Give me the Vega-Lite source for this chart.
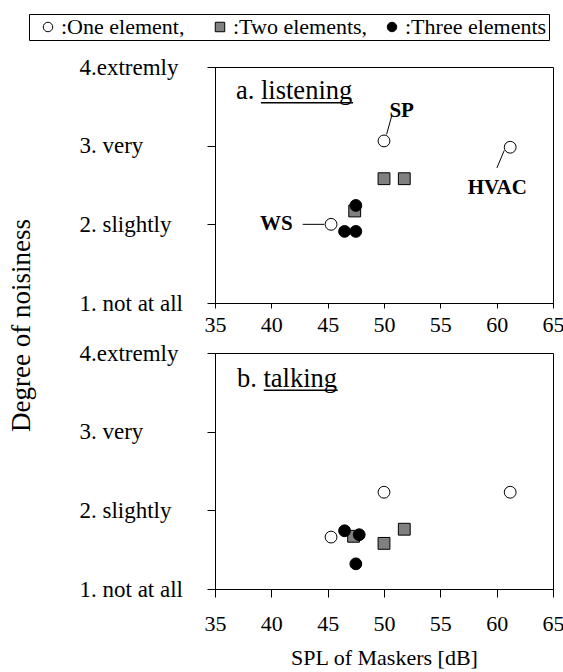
{
  "$schema": "https://vega.github.io/schema/vega-lite/v6.json",
  "padding": {"left": 6, "top": 13, "right": 0, "bottom": 5},
  "bounds": "flush",
  "spacing": 50,
  "datasets": {
    "points": [
      {"panel": "a", "spl": 45.3, "degree": 2.0, "type": "One"},
      {"panel": "a", "spl": 50.0, "degree": 3.06, "type": "One"},
      {"panel": "a", "spl": 61.2, "degree": 2.98, "type": "One"},
      {"panel": "a", "spl": 50.0, "degree": 2.58, "type": "Two"},
      {"panel": "a", "spl": 51.8, "degree": 2.58, "type": "Two"},
      {"panel": "a", "spl": 47.4, "degree": 2.17, "type": "Two"},
      {"panel": "a", "spl": 47.5, "degree": 2.24, "type": "Three"},
      {"panel": "a", "spl": 46.5, "degree": 1.91, "type": "Three"},
      {"panel": "a", "spl": 47.5, "degree": 1.91, "type": "Three"},
      {"panel": "b", "spl": 45.3, "degree": 1.66, "type": "One"},
      {"panel": "b", "spl": 50.0, "degree": 2.23, "type": "One"},
      {"panel": "b", "spl": 61.2, "degree": 2.23, "type": "One"},
      {"panel": "b", "spl": 47.3, "degree": 1.67, "type": "Two"},
      {"panel": "b", "spl": 50.0, "degree": 1.58, "type": "Two"},
      {"panel": "b", "spl": 51.8, "degree": 1.76, "type": "Two"},
      {"panel": "b", "spl": 46.5, "degree": 1.74, "type": "Three"},
      {"panel": "b", "spl": 47.8, "degree": 1.69, "type": "Three"},
      {"panel": "b", "spl": 47.5, "degree": 1.32, "type": "Three"}
    ],
    "labels": [
      {"panel": "a", "spl": 40.44, "degree": 2.0, "text": "WS"},
      {"panel": "a", "spl": 51.57, "degree": 3.44, "text": "SP"},
      {"panel": "a", "spl": 60.05, "degree": 2.46, "text": "HVAC"}
    ],
    "links": [
      {"panel": "a", "x1": 42.78, "y1": 2.0, "x2": 44.7, "y2": 2.0},
      {"panel": "a", "x1": 50.68, "y1": 3.376, "x2": 50.23, "y2": 3.143},
      {"panel": "a", "x1": 60.02, "y1": 2.717, "x2": 60.67, "y2": 2.938}
    ],
    "titles": [
      {"panel": "a", "spl": 36.86, "degree": 3.59, "text": "a. listening", "u1": 39.08, "u2": 47.25, "uy": 3.545},
      {"panel": "b", "spl": 36.95, "degree": 3.573, "text": "b. talking", "u1": 39.32, "u2": 45.89, "uy": 3.527}
    ]
  },
  "vconcat": [
    {
      "width": 338,
      "height": 236,
      "layer": [
        {
          "data": {"name": "points"},
          "transform": [{"filter": "datum.panel == 'a'"}],
          "mark": {"type": "point", "filled": true, "strokeWidth": 1, "size": 140, "opacity": 1},
          "encoding": {
            "x": {"field": "spl", "type": "quantitative", "scale": {"domain": [35, 65], "nice": false},
              "axis": {"title": null, "values": [35, 40, 45, 50, 55, 60, 65], "tickSize": 5, "labelPadding": 6, "labelFontSize": 22}},
            "y": {"field": "degree", "type": "quantitative", "scale": {"domain": [1, 4], "nice": false},
              "axis": {"title": "Degree of noisiness", "titleFontSize": 27, "titleX": -180, "titleY": 258, "titleAlign": "center",
                "values": [1, 2, 3, 4], "tickSize": 8, "labelAlign": "left", "labelBaseline": "middle", "labelPadding": 128,
                "labelExpr": "datum.value == 4 ? '4.extremly' : datum.value == 3 ? '3. very' : datum.value == 2 ? '2. slightly' : '1. not at all'"}},
            "shape": {"field": "type", "type": "nominal", "scale": {"domain": ["One", "Two", "Three"], "range": ["circle", "square", "circle"]},
              "legend": {"orient": "none", "legendX": -186, "legendY": -53, "direction": "horizontal", "columns": 3, "title": null, "gridAlign": "all",
                "labelExpr": "datum.label == 'One' ? ':One element,' : datum.label == 'Two' ? ':Two elements,' : ':Three elements'"}},
            "fill": {"field": "type", "type": "nominal", "scale": {"domain": ["One", "Two", "Three"], "range": ["white", "#808080", "black"]},
              "legend": {"orient": "none", "legendX": -186, "legendY": -53, "direction": "horizontal", "columns": 3, "title": null, "gridAlign": "all",
                "labelExpr": "datum.label == 'One' ? ':One element,' : datum.label == 'Two' ? ':Two elements,' : ':Three elements'"}},
            "stroke": {"field": "type", "type": "nominal", "scale": {"domain": ["One", "Two", "Three"], "range": ["black", "black", "black"]},
              "legend": {"orient": "none", "legendX": -186, "legendY": -53, "direction": "horizontal", "columns": 3, "title": null, "gridAlign": "all",
                "labelExpr": "datum.label == 'One' ? ':One element,' : datum.label == 'Two' ? ':Two elements,' : ':Three elements'"}}
          }
        },
        {
          "data": {"name": "links"},
          "transform": [{"filter": "datum.panel == 'a'"}],
          "mark": {"type": "rule", "color": "black", "strokeWidth": 1},
          "encoding": {
            "x": {"field": "x1", "type": "quantitative"},
            "y": {"field": "y1", "type": "quantitative"},
            "x2": {"field": "x2"},
            "y2": {"field": "y2"}
          }
        },
        {
          "data": {"name": "labels"},
          "transform": [{"filter": "datum.panel == 'a'"}],
          "mark": {"type": "text", "fontSize": 21, "fontWeight": "bold", "align": "center", "baseline": "middle", "color": "black"},
          "encoding": {
            "x": {"field": "spl", "type": "quantitative"},
            "y": {"field": "degree", "type": "quantitative"},
            "text": {"field": "text"}
          }
        },
        {
          "data": {"name": "titles"},
          "transform": [{"filter": "datum.panel == 'a'"}],
          "mark": {"type": "text", "fontSize": 26.5, "align": "left", "baseline": "alphabetic", "color": "black"},
          "encoding": {
            "x": {"field": "spl", "type": "quantitative"},
            "y": {"field": "degree", "type": "quantitative"},
            "text": {"field": "text"}
          }
        },
        {
          "data": {"name": "titles"},
          "transform": [{"filter": "datum.panel == 'a'"}],
          "mark": {"type": "rule", "color": "black", "strokeWidth": 1.5},
          "encoding": {
            "x": {"field": "u1", "type": "quantitative"},
            "x2": {"field": "u2"},
            "y": {"field": "uy", "type": "quantitative"}
          }
        }
      ]
    },
    {
      "width": 338,
      "height": 236,
      "layer": [
        {
          "data": {"name": "points"},
          "transform": [{"filter": "datum.panel == 'b'"}],
          "mark": {"type": "point", "filled": true, "strokeWidth": 1, "size": 140, "opacity": 1},
          "encoding": {
            "x": {"field": "spl", "type": "quantitative", "scale": {"domain": [35, 65], "nice": false},
              "axis": {"title": "SPL of Maskers [dB]", "titleFontSize": 22, "titleY": 58, "values": [35, 40, 45, 50, 55, 60, 65], "tickSize": 8, "labelPadding": 16, "labelFontSize": 22}},
            "y": {"field": "degree", "type": "quantitative", "scale": {"domain": [1, 4], "nice": false},
              "axis": {"title": null, "values": [1, 2, 3, 4], "tickSize": 8, "labelAlign": "left", "labelBaseline": "middle", "labelPadding": 128,
                "labelExpr": "datum.value == 4 ? '4.extremly' : datum.value == 3 ? '3. very' : datum.value == 2 ? '2. slightly' : '1. not at all'"}},
            "shape": {"field": "type", "type": "nominal", "scale": {"domain": ["One", "Two", "Three"], "range": ["circle", "square", "circle"]}, "legend": null},
            "fill": {"field": "type", "type": "nominal", "scale": {"domain": ["One", "Two", "Three"], "range": ["white", "#808080", "black"]}, "legend": null},
            "stroke": {"field": "type", "type": "nominal", "scale": {"domain": ["One", "Two", "Three"], "range": ["black", "black", "black"]}, "legend": null}
          }
        },
        {
          "data": {"name": "titles"},
          "transform": [{"filter": "datum.panel == 'b'"}],
          "mark": {"type": "text", "fontSize": 26.5, "align": "left", "baseline": "alphabetic", "color": "black"},
          "encoding": {
            "x": {"field": "spl", "type": "quantitative"},
            "y": {"field": "degree", "type": "quantitative"},
            "text": {"field": "text"}
          }
        },
        {
          "data": {"name": "titles"},
          "transform": [{"filter": "datum.panel == 'b'"}],
          "mark": {"type": "rule", "color": "black", "strokeWidth": 1.5},
          "encoding": {
            "x": {"field": "u1", "type": "quantitative"},
            "x2": {"field": "u2"},
            "y": {"field": "uy", "type": "quantitative"}
          }
        }
      ]
    }
  ],
  "config": {
    "font": "Liberation Serif, Times New Roman, DejaVu Serif, serif",
    "text": {"font": "Liberation Serif, Times New Roman, DejaVu Serif, serif"},
    "view": {"stroke": "black", "strokeWidth": 1},
    "axis": {"grid": false, "domainColor": "black", "tickColor": "black", "labelColor": "black", "titleColor": "black",
      "labelFont": "Liberation Serif, Times New Roman, DejaVu Serif, serif", "titleFont": "Liberation Serif, Times New Roman, DejaVu Serif, serif",
      "titleFontWeight": "normal", "labelFontSize": 23, "labelFlush": false, "labelOverlap": false},
    "legend": {"strokeColor": "black", "padding": 2, "labelFont": "Liberation Serif, Times New Roman, DejaVu Serif, serif", "labelFontSize": 22, "labelColor": "black",
      "symbolStrokeColor": "black", "symbolStrokeWidth": 1, "symbolSize": 90, "symbolOffset": 6, "labelOffset": 2, "columnPadding": -13, "fillColor": "white"}
  }
}
